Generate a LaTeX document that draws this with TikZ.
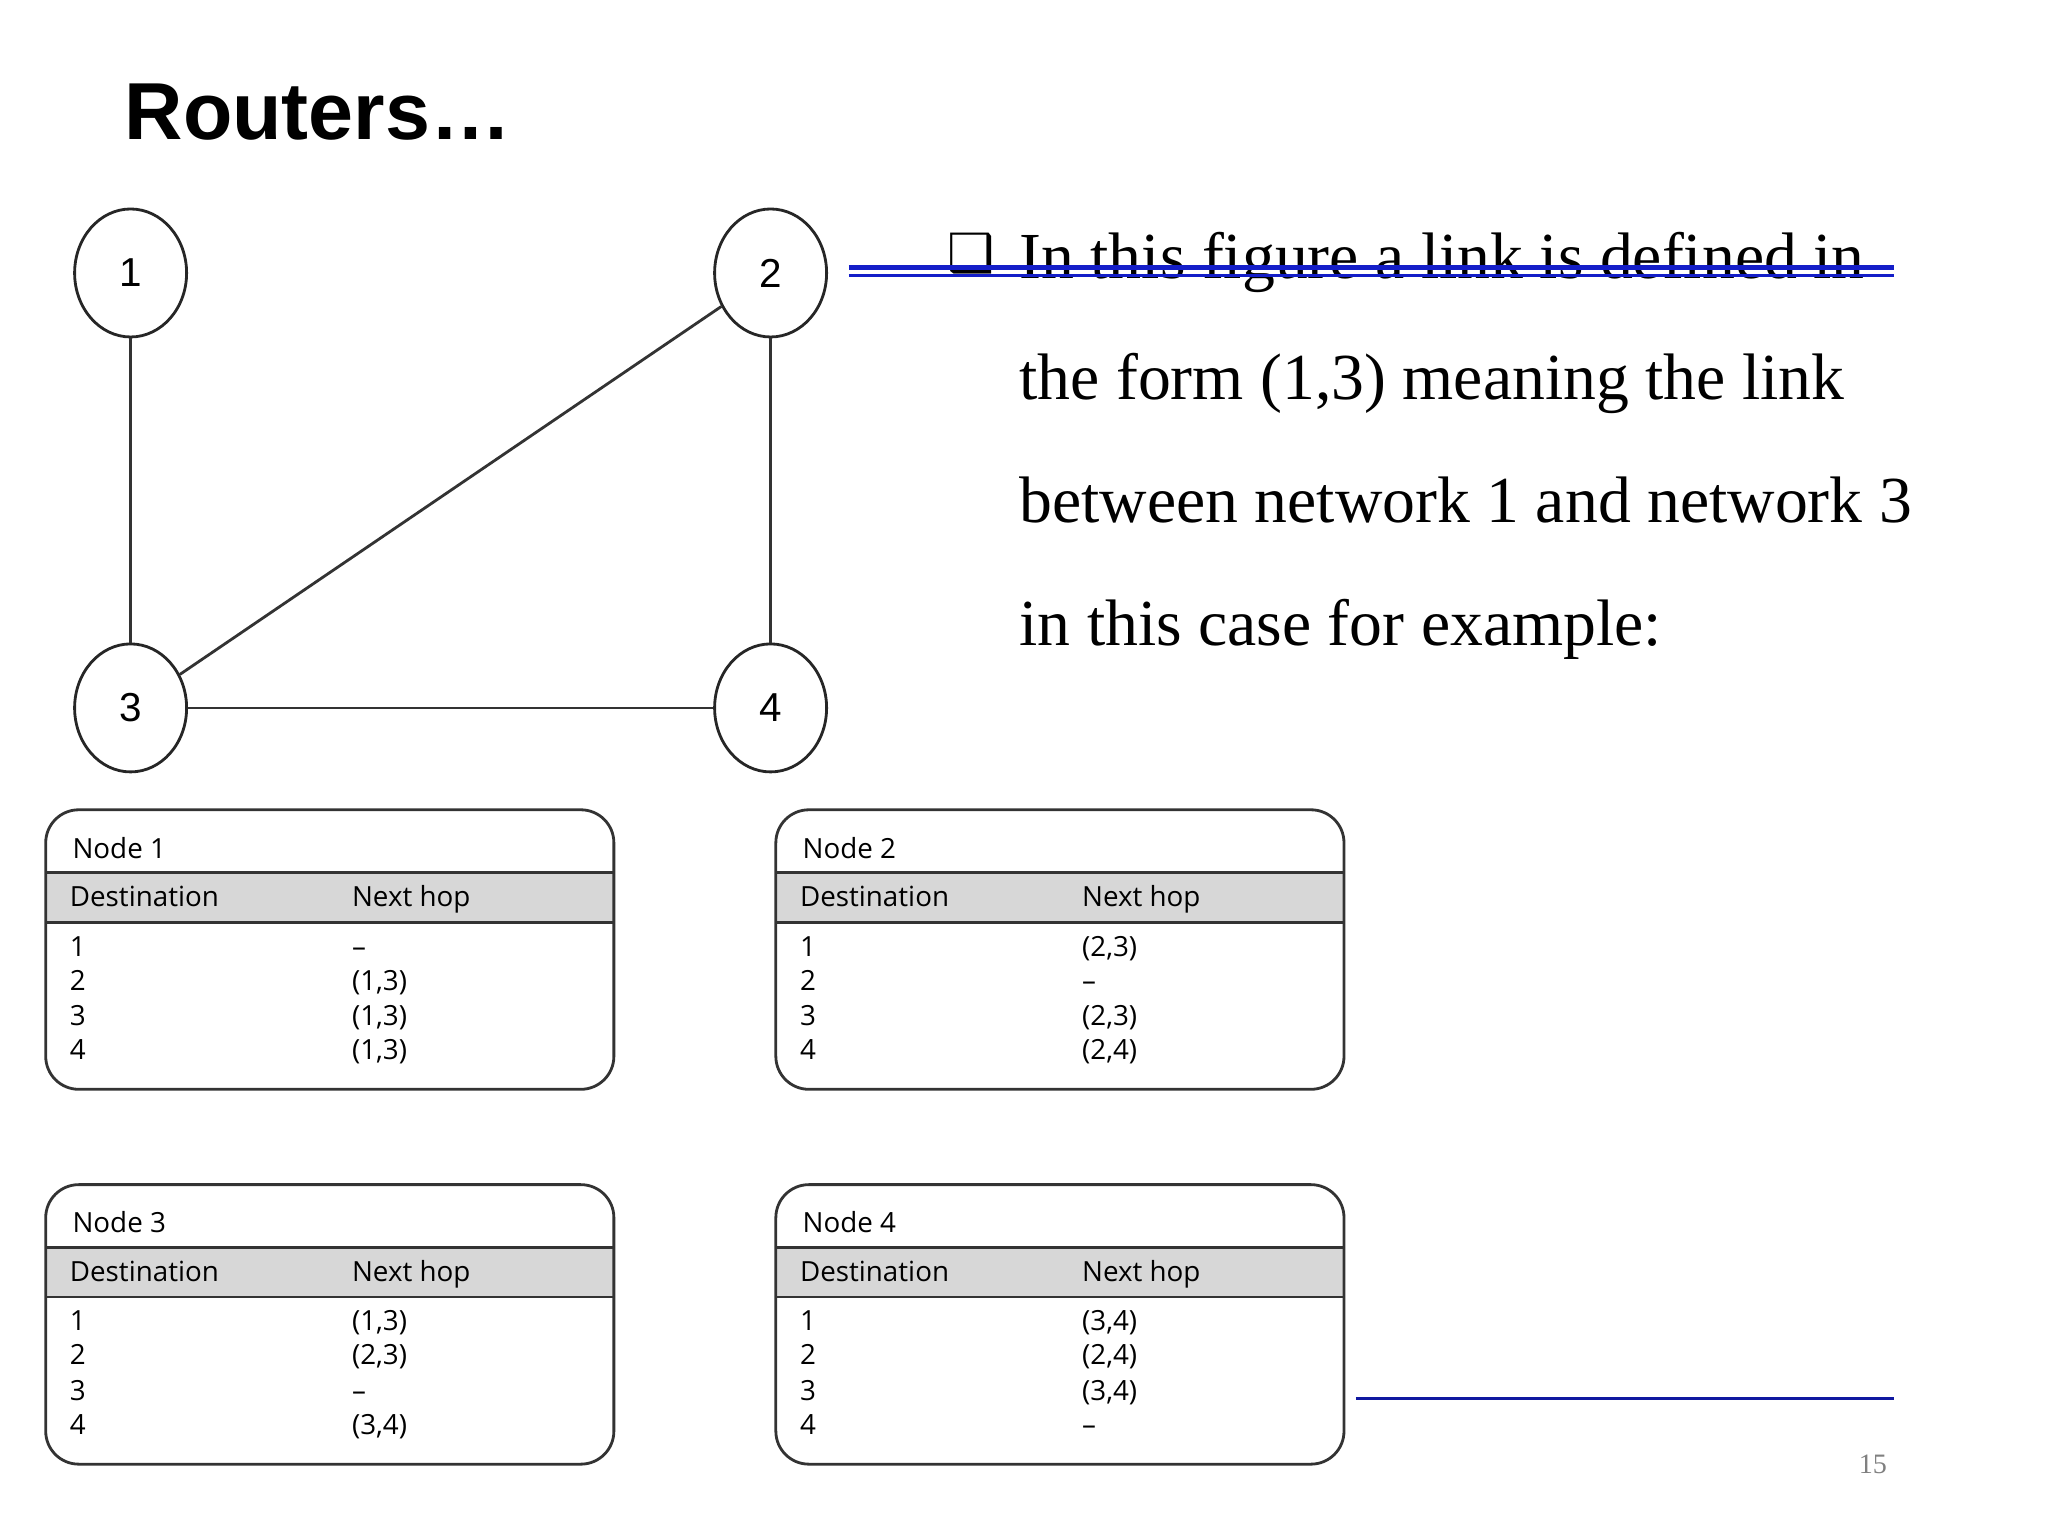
\documentclass[tikz,border=0pt]{standalone}
\usepackage{fontspec}
\setmainfont{Liberation Serif}
\newfontfamily\hsans{Liberation Sans}
\newfontfamily\tsans{Open Sans}
\newfontfamily\djv{DejaVu Sans}
\usetikzlibrary{shapes.geometric}
\definecolor{hdr}{RGB}{215,215,215}
\definecolor{strike}{RGB}{20,30,200}
\begin{document}
\begin{tikzpicture}[x=0.01306cm,y=-0.01306cm,
  rnode/.style={draw=black!85,thick,ellipse,minimum width=1.12cm,minimum height=1.28cm,inner sep=0pt,font=\hsans\fontsize{11.5}{14}\selectfont},
  edge/.style={draw=black!80,thick},
  body/.style={anchor=base west,font=\fontsize{18.7}{21}\selectfont},
  tt/.style={anchor=base west,inner sep=0pt,font=\tsans\fontsize{7.9}{9}\selectfont},
  tbox/.style={draw=black!80,thick,rounded corners=0.33cm}]
\useasboundingbox (0,0) rectangle (1568,1176);
\node[anchor=base west,inner sep=0pt,font=\hsans\bfseries\fontsize{23}{28}\selectfont] (title) at (95,107) {Routers…};
\node[rnode] (n1) at (100,209) {1};
\node[rnode] (n2) at (590,209) {2};
\node[rnode] (n3) at (100,542) {3};
\node[rnode] (n4) at (590,542) {4};
\draw[edge] (n1)--(n3);
\draw[edge] (n2)--(n4);
\draw[edge] (n3)--(n4);
\draw[edge] (n3)--(n2);
% text
\node[anchor=base west,inner sep=0pt,font=\djv\bfseries\fontsize{15}{18}\selectfont] (bul) at (725,208) {❑};
\node[body,inner sep=0pt] (l1) at (780,213) {In this figure a link is defined in};
\node[body,inner sep=0pt] (l2) at (780,306) {the form (1,3) meaning the link};
\node[body,inner sep=0pt] (l3) at (780,400) {between network 1 and network 3};
\node[body,inner sep=0pt] (l4) at (780,494) {in this case for example:};
\coordinate (s1a) at (650,205); \coordinate (s1b) at (1450,205);
\coordinate (s2a) at (650,211); \coordinate (s2b) at (1450,211);
\draw[strike,line width=1.4pt] (s1a)--(s1b);
\draw[strike,line width=0.8pt] (s2a)--(s2b);
\coordinate (b1) at (1038,1071); \coordinate (b2) at (1450,1071);
\draw[strike!80!black,line width=0.9pt] (b1)--(b2);
\node[anchor=base,inner sep=0pt,text=black!50,font=\fontsize{8}{9}\selectfont] (pg) at (1434,1128) {15};
% tables
\foreach \X/\Y/\N/\A/\B/\C/\D in {35/620/1/–/{(1,3)}/{(1,3)}/{(1,3)},
  594/620/2/{(2,3)}/–/{(2,3)}/{(2,4)},
  35/907/3/{(1,3)}/{(2,3)}/–/{(3,4)},
  594/907/4/{(3,4)}/{(2,4)}/{(3,4)}/–}{
  \begin{scope}[shift={(\X,\Y)}]
  \fill[hdr] (0,48) rectangle (435,86);
  \draw[black!80,thick] (0,48)--(435,48) (0,86)--(435,86);
  \draw[tbox] (0,0) rectangle (435,214);
  \node[tt] (t\N) at (20,37) {Node \N};
  \node[tt] (d\N) at (18,74) {Destination};
  \node[tt] (h\N) at (234,74) {Next hop};
  \node[tt] at (18,112) {1}; \node[tt] at (234,112) {\A};
  \node[tt] at (18,138) {2}; \node[tt] at (234,138) {\B};
  \node[tt] at (18,165) {3}; \node[tt] at (234,165) {\C};
  \node[tt] at (18,191) {4}; \node[tt] at (234,191) {\D};
  \end{scope}}
\end{tikzpicture}
\end{document}
